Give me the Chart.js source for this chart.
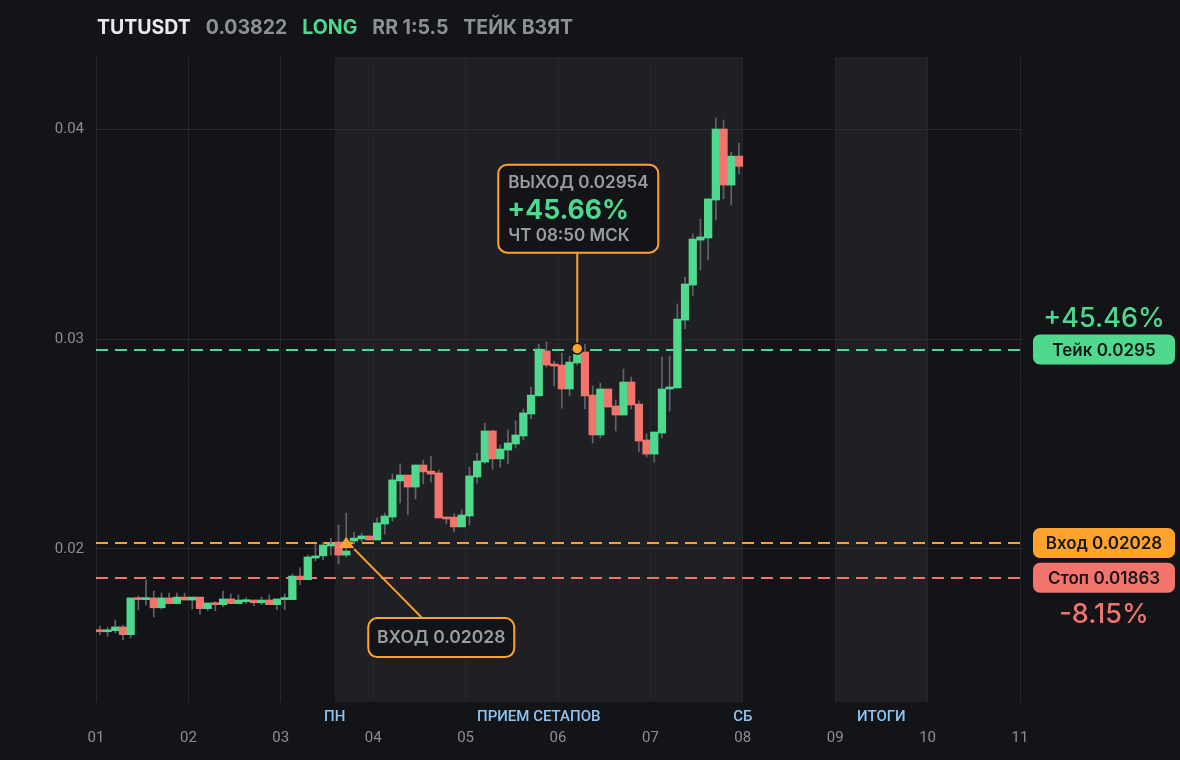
<!DOCTYPE html>
<html>
<head>
<meta charset="utf-8">
<script src="https://cdn.jsdelivr.net/npm/chart.js@4.4.1/dist/chart.umd.min.js"></script>
<style>
	html, body { margin: 0; padding: 0; background: #131418; }
	#wrap { width: 1180px; height: 760px; }
</style>
</head>
<body>
<div id="wrap"><canvas id="chart" width="1180" height="760"></canvas></div>
<script>
// 2h candles, 12 per day
const candlesPerDay = 12;
const opens = [
	0.01614, 0.01606, 0.01611, 0.01629, 0.01592, 0.01767, 0.01759, 0.01767, 0.01720, 0.01767, 0.01740, 0.01771,
	0.01757, 0.01771, 0.01716, 0.01744, 0.01735, 0.01762, 0.01740, 0.01749, 0.01757, 0.01744, 0.01757, 0.01735,
	0.01759, 0.01759, 0.01871, 0.01854, 0.01957, 0.01967, 0.02014, 0.02033, 0.01971, 0.02038, 0.02048, 0.02062,
	0.02043, 0.02119, 0.02152, 0.02324, 0.02352, 0.02295, 0.02400, 0.02371, 0.02362, 0.02152, 0.02152, 0.02105,
	0.02157, 0.02343, 0.02414, 0.02562, 0.02429, 0.02471, 0.02500, 0.02538, 0.02643, 0.02729, 0.02943, 0.02881,
	0.02876, 0.02762, 0.02886, 0.02938, 0.02733, 0.02543, 0.02762, 0.02681, 0.02638, 0.02795, 0.02690, 0.02519,
	0.02452, 0.02552, 0.02762, 0.02767, 0.03090, 0.03257, 0.03471, 0.03481, 0.03662, 0.04000, 0.03733, 0.03871
];
const highs = [
	0.01633, 0.01627, 0.01662, 0.01638, 0.01767, 0.01776, 0.01852, 0.01800, 0.01790, 0.01790, 0.01790, 0.01790,
	0.01771, 0.01771, 0.01743, 0.01749, 0.01800, 0.01786, 0.01781, 0.01767, 0.01757, 0.01771, 0.01781, 0.01762,
	0.01786, 0.01881, 0.01910, 0.01971, 0.02024, 0.02033, 0.02052, 0.02114, 0.02171, 0.02081, 0.02076, 0.02062,
	0.02148, 0.02171, 0.02357, 0.02405, 0.02352, 0.02400, 0.02424, 0.02443, 0.02376, 0.02152, 0.02167, 0.02186,
	0.02390, 0.02457, 0.02600, 0.02567, 0.02495, 0.02567, 0.02610, 0.02667, 0.02771, 0.02976, 0.02986, 0.02895,
	0.02933, 0.02919, 0.02954, 0.02976, 0.02776, 0.02790, 0.02762, 0.02710, 0.02857, 0.02819, 0.02705, 0.02548,
	0.02557, 0.02914, 0.02919, 0.03167, 0.03295, 0.03500, 0.03571, 0.03667, 0.04052, 0.04043, 0.03890, 0.03933
];
const lows = [
	0.01592, 0.01584, 0.01600, 0.01567, 0.01576, 0.01710, 0.01733, 0.01676, 0.01714, 0.01738, 0.01738, 0.01757,
	0.01714, 0.01690, 0.01706, 0.01706, 0.01725, 0.01740, 0.01740, 0.01740, 0.01730, 0.01735, 0.01735, 0.01711,
	0.01711, 0.01759, 0.01830, 0.01854, 0.01943, 0.01948, 0.01971, 0.01929, 0.01962, 0.02024, 0.02033, 0.02043,
	0.02043, 0.02071, 0.02133, 0.02219, 0.02162, 0.02238, 0.02310, 0.02319, 0.02148, 0.02119, 0.02081, 0.02105,
	0.02114, 0.02314, 0.02405, 0.02381, 0.02390, 0.02405, 0.02481, 0.02519, 0.02619, 0.02729, 0.02867, 0.02776,
	0.02671, 0.02729, 0.02876, 0.02667, 0.02505, 0.02529, 0.02676, 0.02562, 0.02638, 0.02667, 0.02462, 0.02438,
	0.02414, 0.02529, 0.02657, 0.02767, 0.03048, 0.03205, 0.03329, 0.03376, 0.03567, 0.03667, 0.03638, 0.03786
];
const closes = [
	0.01606, 0.01614, 0.01629, 0.01592, 0.01767, 0.01759, 0.01767, 0.01720, 0.01767, 0.01740, 0.01771, 0.01757,
	0.01771, 0.01716, 0.01743, 0.01735, 0.01762, 0.01740, 0.01757, 0.01757, 0.01744, 0.01757, 0.01735, 0.01762,
	0.01767, 0.01871, 0.01854, 0.01962, 0.01967, 0.02019, 0.02024, 0.01971, 0.01990, 0.02052, 0.02062, 0.02043,
	0.02124, 0.02157, 0.02329, 0.02352, 0.02295, 0.02400, 0.02367, 0.02357, 0.02148, 0.02143, 0.02105, 0.02162,
	0.02348, 0.02419, 0.02562, 0.02429, 0.02476, 0.02505, 0.02543, 0.02648, 0.02733, 0.02952, 0.02876, 0.02871,
	0.02762, 0.02890, 0.02929, 0.02729, 0.02543, 0.02762, 0.02676, 0.02638, 0.02795, 0.02686, 0.02514, 0.02452,
	0.02557, 0.02762, 0.02771, 0.03095, 0.03262, 0.03476, 0.03486, 0.03667, 0.04000, 0.03733, 0.03871, 0.03822
];

const xTickLabels = ['01', '02', '03', '04', '05', '06', '07', '08', '09', '10', '11'];
const yTickValues = [0.02, 0.03, 0.04];
const yMin = 0.012714;
const yMax = 0.043429;

// session bands [from, to] in day units, and captions under them
const sessionBands = [[1 + 31 / 12, 8], [9, 10]];
const sessionLabels = [
	{ x: 1 + 31 / 12, text: 'ПН' },
	{ x: (1 + 31 / 12 + 8) / 2, text: 'ПРИЕМ СЕТАПОВ' },
	{ x: 8, text: 'СБ' },
	{ x: 9.5, text: 'ИТОГИ' },
];

const headerParts = [
	{ text: 'TUTUSDT', color: '#e9e9eb' },
	{ text: '0.03822', color: '#8e9097' },
	{ text: 'LONG', color: '#4fd98e' },
	{ text: 'RR 1:5.5', color: '#8e9097' },
	{ text: 'ТЕЙК ВЗЯТ', color: '#8e9097' },
];

const takeLevel = 0.0295;
const entryLevel = 0.02028;
const stopLevel = 0.01863;
const entryCandle = 32;
const exitCandle = 62;
const exitPrice = 0.02954;

const GREEN = '#4fd98e';
const RED = '#f3746d';
const ORANGE = '#ffa22e';
const GRAY = '#9a9ca3';
const BG = '#131418';

const xOf = (i) => 1 + (i + 0.5) / candlesPerDay;

const wickData = highs.map((h, i) => ({ x: xOf(i), y: [lows[i], h] }));
const bodyData = opens.map((o, i) => ({ x: xOf(i), y: [o, closes[i]] }));
const bodyColors = opens.map((o, i) => (closes[i] >= o ? GREEN : RED));

const pill = (ctx, cx, cy, text, fill) => {
	const w = 142, h = 30;
	ctx.fillStyle = fill;
	ctx.beginPath();
	ctx.roundRect(cx - w / 2, cy - h / 2, w, h, 7);
	ctx.fill();
	ctx.fillStyle = '#16171a';
	ctx.font = '600 17px Inter';
	ctx.textAlign = 'center';
	ctx.textBaseline = 'middle';
	ctx.fillText(text, cx, cy + 1);
};

const overlay = {
	id: 'overlay',
	beforeDraw(chart) {
		const { ctx, chartArea: a, scales } = chart;
		ctx.save();
		ctx.fillStyle = BG;
		ctx.fillRect(0, 0, chart.width, chart.height);
		ctx.fillStyle = '#1f2024';
		sessionBands.forEach(([f, t]) => {
			const x0 = scales.x.getPixelForValue(f);
			const x1 = scales.x.getPixelForValue(t);
			ctx.fillRect(x0, a.top, x1 - x0, a.bottom - a.top);
		});
		ctx.restore();
	},
	beforeDatasetsDraw(chart) {
		const { ctx, chartArea: a, scales } = chart;
		ctx.save();
		ctx.lineWidth = 2;
		ctx.setLineDash([12, 7]);
		[[takeLevel, GREEN], [entryLevel, ORANGE], [stopLevel, RED]].forEach(([v, c]) => {
			const y = Math.round(scales.y.getPixelForValue(v));
			ctx.strokeStyle = c;
			ctx.beginPath();
			ctx.moveTo(a.left, y);
			ctx.lineTo(a.right, y);
			ctx.stroke();
		});
		ctx.restore();
	},
	afterDraw(chart) {
		const { ctx, chartArea: a, scales } = chart;
		const X = (v) => scales.x.getPixelForValue(v);
		const Y = (v) => scales.y.getPixelForValue(v);
		ctx.save();

		// header
		ctx.font = '700 19.5px Inter';
		ctx.textBaseline = 'middle';
		ctx.textAlign = 'left';
		let hx = 97;
		headerParts.forEach((p) => {
			ctx.fillStyle = p.color;
			ctx.fillText(p.text, hx, 28);
			hx += ctx.measureText(p.text).width + 15;
		});

		// session captions
		ctx.font = '500 15px Roboto';
		ctx.fillStyle = '#8ec5f3';
		ctx.textAlign = 'center';
		sessionLabels.forEach((s) => ctx.fillText(s.text, X(s.x), a.bottom + 15));

		// right side labels
		const rx = 1104;
		const yTake = Y(takeLevel), yEntry = Y(entryLevel), yStop = Y(stopLevel);
		pill(ctx, rx, yTake, 'Тейк 0.0295', GREEN);
		pill(ctx, rx, yEntry, 'Вход 0.02028', ORANGE);
		pill(ctx, rx, yStop, 'Стоп 0.01863', RED);
		ctx.font = '500 27px Inter';
		ctx.textAlign = 'center';
		ctx.fillStyle = GREEN;
		ctx.fillText('+45.46%', rx, yTake - 31);
		ctx.fillStyle = RED;
		ctx.fillText('-8.15%', rx, yStop + 37);

		// exit marker and callout
		const ex = X(xOf(exitCandle)), ey = Y(exitPrice);
		const boxB = ey - 96, boxT = boxB - 88;
		ctx.strokeStyle = ORANGE;
		ctx.lineWidth = 2;
		ctx.beginPath();
		ctx.moveTo(ex, boxB);
		ctx.lineTo(ex, ey);
		ctx.stroke();
		ctx.fillStyle = BG;
		ctx.beginPath();
		ctx.roundRect(ex - 79, boxT, 160, 88, 9);
		ctx.fill();
		ctx.stroke();
		ctx.beginPath();
		ctx.arc(ex, ey, 5.5, 0, Math.PI * 2);
		ctx.fillStyle = ORANGE;
		ctx.fill();
		ctx.strokeStyle = BG;
		ctx.lineWidth = 1.5;
		ctx.stroke();
		ctx.textAlign = 'left';
		ctx.fillStyle = GRAY;
		ctx.font = '600 17px Inter';
		ctx.fillText('ВЫХОД 0.02954', ex - 69, boxT + 18);
		ctx.fillText('ЧТ 08:50 МСК', ex - 69, boxT + 71);
		ctx.fillStyle = GREEN;
		ctx.font = '700 26.5px Inter';
		ctx.fillText('+45.66%', ex - 70, boxT + 46);

		// entry marker and callout
		const nx = X(xOf(entryCandle)), ny = Y(entryLevel);
		ctx.strokeStyle = ORANGE;
		ctx.lineWidth = 2;
		ctx.beginPath();
		ctx.moveTo(nx + 8, ny + 6);
		ctx.lineTo(nx + 76, ny + 75);
		ctx.stroke();
		ctx.fillStyle = ORANGE;
		ctx.beginPath();
		ctx.moveTo(nx, ny - 6);
		ctx.lineTo(nx + 8, ny + 5);
		ctx.lineTo(nx - 8, ny + 5);
		ctx.closePath();
		ctx.fill();
		ctx.fillStyle = BG;
		ctx.beginPath();
		ctx.roundRect(nx + 22, ny + 75, 146, 39, 9);
		ctx.fill();
		ctx.stroke();
		ctx.fillStyle = GRAY;
		ctx.font = '600 17.5px Inter';
		ctx.textAlign = 'center';
		ctx.fillText('ВХОД 0.02028', nx + 95, ny + 95);

		ctx.restore();
	},
};

new Chart(document.getElementById('chart'), {
	type: 'bar',
	data: {
		datasets: [
			{
				label: 'wick',
				data: wickData,
				backgroundColor: '#62646b',
				grouped: false,
				categoryPercentage: 1,
				barPercentage: 1,
				maxBarThickness: 1,
				order: 2,
			},
			{
				label: 'body',
				data: bodyData,
				backgroundColor: bodyColors,
				grouped: false,
				categoryPercentage: 1,
				barPercentage: 1,
				maxBarThickness: 7.6,
				minBarLength: 2,
				order: 1,
			},
		],
	},
	options: {
		responsive: false,
		animation: false,
		layout: { padding: { left: 0, right: 160, top: 57, bottom: 0 } },
		plugins: { legend: { display: false }, tooltip: { enabled: false } },
		scales: {
			x: {
				type: 'linear',
				min: 1,
				max: 11,
				offset: false,
				afterFit: (s) => { s.height = 58; },
				afterBuildTicks: (s) => { s.ticks = xTickLabels.map((_, i) => ({ value: i + 1 })); },
				grid: { color: '#26272c', drawTicks: false, offset: false },
				border: { display: false },
				ticks: {
					padding: 27,
					color: '#8c8e95',
					font: { family: 'Roboto', size: 15 },
					maxRotation: 0,
					autoSkip: false,
					callback: (v) => xTickLabels[Math.round(v) - 1],
				},
			},
			y: {
				min: yMin,
				max: yMax,
				afterFit: (s) => { s.width = 96; },
				afterBuildTicks: (s) => { s.ticks = yTickValues.map((v) => ({ value: v })); },
				grid: { color: '#2a2b30', drawTicks: false },
				border: { display: false },
				ticks: {
					padding: 12,
					color: '#8c8e95',
					font: { family: 'Roboto', size: 15 },
					callback: (v) => v.toFixed(2),
				},
			},
		},
	},
	plugins: [overlay],
});
</script>
</body>
</html>
